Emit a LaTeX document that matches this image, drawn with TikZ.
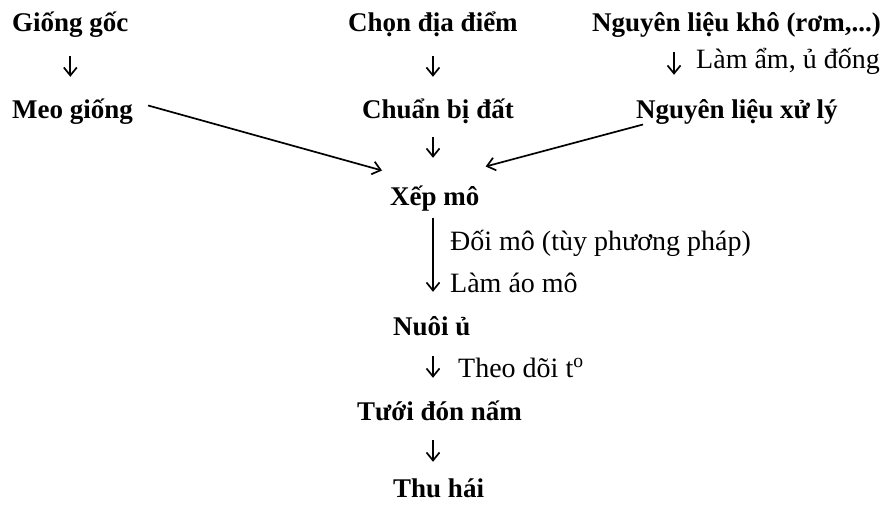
\documentclass[tikz,border=0pt]{standalone}
\usepackage{fontspec}
\setmainfont{Liberation Serif}
\usetikzlibrary{arrows.meta,calc}
\begin{document}
\begin{tikzpicture}[x=1pt,y=-1pt,
  lbl/.style={anchor=base west,inner sep=0pt,text height=20pt,text depth=7pt,font=\fontsize{27}{32}\selectfont\bfseries},
  note/.style={anchor=base west,inner sep=0pt,text height=20pt,text depth=7pt,font=\fontsize{28}{33}\selectfont},
  arr/.style={line width=1.7pt,-{Straight Barb[length=8pt,width=13pt,line width=1.7pt]}},
  ]
\useasboundingbox (0,0) rectangle (882,506);
\coordinate (axis) at (433,0);
% top row
\node[lbl] (gg) at (12,31) {Giống gốc};
\node[lbl] (cd) at (348,31) {Chọn địa điểm};
\node[lbl] (nlk) at (592,31) {Nguyên liệu khô (rơm,...)};
% second row
\node[note] (lam) at (696,68) {Làm ẩm, ủ đống};
\node[lbl] (mg) at (12,118) {Meo giống};
\node[lbl] (cb) at (362,118) {Chuẩn bị đất};
\node[lbl] (nlx) at (636,118) {Nguyên liệu xử lý};
% main column
\node[lbl] (xm) at (390,205) {Xếp mô};
\node[note] (dm) at (450,250) {Đối mô (tùy phương pháp)};
\node[note] (lao) at (450,292) {Làm áo mô};
\node[lbl] (nu) at (393,335) {Nuôi ủ};
\node[note] (td) at (458,377) {Theo dõi t\textsuperscript{o}};
\node[lbl] (tdn) at (357,420) {Tưới đón nấm};
\node[lbl] (th) at (393,497) {Thu hái};
\coordinate (lamx) at ($(lam.west)+(-22,0)$);
% short vertical arrows
\draw[arr,shorten <=18pt,shorten >=21pt] (gg.south) -- (gg.south |- mg.north);
\draw[arr,shorten <=18pt,shorten >=21pt] (cd.south) -- (cd.south |- cb.north);
\draw[arr,shorten <=14pt,shorten >=23pt] (lamx |- nlk.south) -- (lamx |- nlx.north);
\draw[arr,shorten <=12pt,shorten >=27pt] (cb.south -| axis) -- (xm.north -| axis);
\draw[arr,shorten <=6pt,shorten >=23pt] (xm.south -| axis) -- (nu.north -| axis);
\draw[arr,shorten <=14pt,shorten >=22pt] (nu.south -| axis) -- (tdn.north -| axis);
\draw[arr,shorten <=13pt,shorten >=15pt] (tdn.south -| axis) -- (th.north -| axis);
% converging arrows
\draw[arr] ($(mg.east)+(15,-6)$) -- ($(xm.west)+(-8,-28)$);
\draw[arr] ($(nlx.west)+(7,13)$) -- ($(xm.east)+(6,-32)$);
\end{tikzpicture}
\end{document}
